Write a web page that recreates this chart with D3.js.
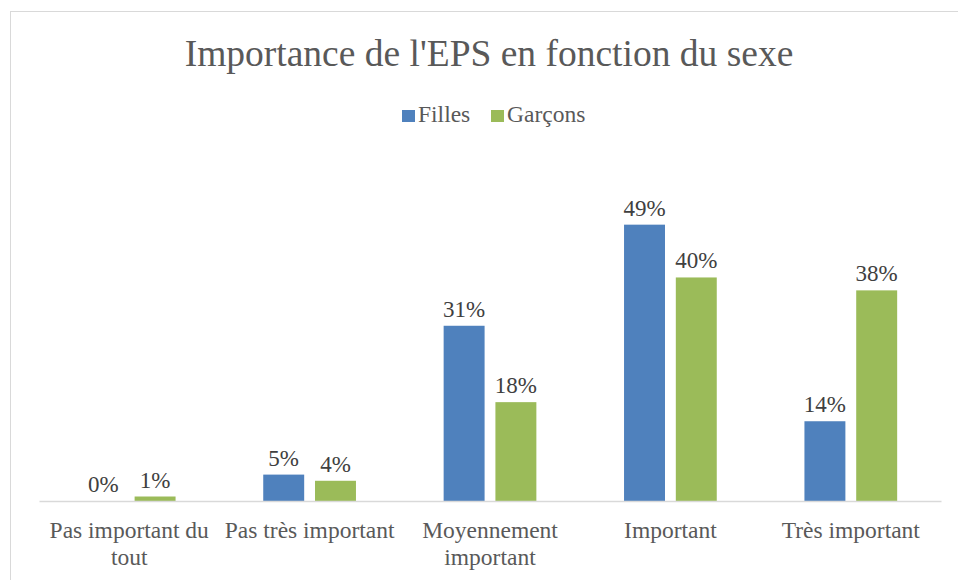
<!DOCTYPE html>
<html>
<head>
<meta charset="utf-8">
<script src="https://cdn.jsdelivr.net/npm/d3@7"></script>
<style>
  html, body { margin: 0; padding: 0; background: #fff; }
</style>
</head>
<body>
<svg id="chart" width="958" height="580"></svg>
<script>
const title = "Importance de l'EPS en fonction du sexe";
const categories = ["Pas important du tout", "Pas très important", "Moyennement important", "Important", "Très important"];
const seriesNames = ["Filles", "Garçons"];
const filles = [0, 4.7, 31.2, 49.2, 14.2];
const garcons = [0.8, 3.6, 17.6, 39.8, 37.5];
const colors = ["#4F81BD", "#9BBB59"];

const FONT = "'Liberation Serif', serif";
const svg = d3.select("#chart");
const W = 958, H = 580;
const plot = { left: 39, right: 941, top: 164, bottom: 501 };

// chart border
svg.append("rect")
  .attr("x", 10.5).attr("y", 11.5)
  .attr("width", W + 20).attr("height", H + 20)
  .attr("fill", "#fff").attr("stroke", "#D9D9D9").attr("stroke-width", 1);

// title
svg.append("text")
  .attr("x", 489).attr("y", 66)
  .attr("text-anchor", "middle")
  .style("font-family", FONT)
  .attr("font-size", 37.5)
  .attr("fill", "#595959")
  .text(title);

// legend
const legend = svg.append("g");
const legendItems = [{ name: seriesNames[0], x: 402 }, { name: seriesNames[1], x: 491 }];
legendItems.forEach((it, i) => {
  legend.append("rect").attr("x", it.x).attr("y", 110).attr("width", 13).attr("height", 12).attr("fill", colors[i]);
  legend.append("text").attr("x", it.x + 16).attr("y", 122)
    .style("font-family", FONT)
    .attr("font-size", 23.5).attr("fill", "#595959").text(it.name);
});

// scales
const x0 = d3.scaleBand().domain(categories).range([plot.left, plot.right]).paddingInner(0).paddingOuter(0);
const step = x0.bandwidth();
const barW = step * 0.227;
const gap = step * 0.06;
const x1 = d3.scaleOrdinal().domain(seriesNames).range([step / 2 - gap / 2 - barW, step / 2 + gap / 2]);
const y = d3.scaleLinear().domain([0, 60]).range([plot.bottom, plot.top]);

const data = categories.map((c, i) => ({ cat: c, values: [
  { s: seriesNames[0], v: filles[i], color: colors[0] },
  { s: seriesNames[1], v: garcons[i], color: colors[1] }
]}));

const groups = svg.append("g").selectAll("g").data(data).join("g")
  .attr("transform", d => `translate(${x0(d.cat)},0)`);

groups.selectAll("rect").data(d => d.values).join("rect")
  .attr("x", d => x1(d.s))
  .attr("y", d => y(d.v))
  .attr("width", barW)
  .attr("height", d => y(0) - y(d.v))
  .attr("fill", d => d.color);

groups.selectAll("text.lbl").data(d => d.values).join("text")
  .attr("class", "lbl")
  .attr("x", d => x1(d.s) + barW / 2)
  .attr("y", d => y(d.v) - 9)
  .attr("text-anchor", "middle")
  .style("font-family", FONT)
  .attr("font-size", 23)
  .attr("fill", "#404040")
  .text(d => Math.round(d.v) + "%");

// x axis
const xAxis = d3.axisBottom(x0).tickSize(0).tickPadding(0);
const axisG = svg.append("g").attr("transform", `translate(0,${plot.bottom})`).call(xAxis);
axisG.attr("font-family", null);
axisG.select(".domain").attr("stroke", "#D9D9D9").attr("stroke-width", 1.5);
axisG.selectAll(".tick text")
  .style("font-family", FONT)
  .attr("font-size", 23.5)
  .attr("fill", "#595959")
  .attr("y", 37).attr("dy", 0)
  .each(function(d) {
    const t = d3.select(this);
    const words = d.split(" ");
    t.text(null);
    let line = [];
    let lineNo = 0;
    let tspan = t.append("tspan").attr("x", 0).attr("y", 37);
    words.forEach(w => {
      line.push(w);
      tspan.text(line.join(" "));
      if (tspan.node().getComputedTextLength() > step - 4 && line.length > 1) {
        line.pop();
        tspan.text(line.join(" "));
        line = [w];
        lineNo++;
        tspan = t.append("tspan").attr("x", 0).attr("y", 37 + lineNo * 27).text(w);
      }
    });
  });
</script>
</body>
</html>
